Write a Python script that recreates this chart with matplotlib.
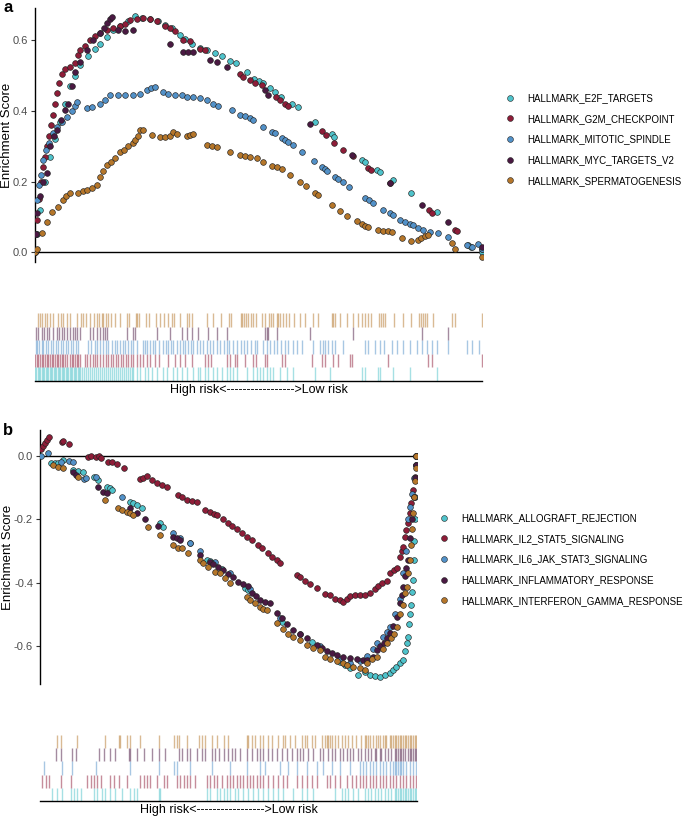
import matplotlib
matplotlib.use("Agg")
import matplotlib.pyplot as plt
from matplotlib.lines import Line2D

plt.rcParams['font.family'] = ['Liberation Sans', 'DejaVu Sans']

# ---------------- painel a (ranks 0..1341) ----------------
N_A = 1341
names_a = ["HALLMARK_E2F_TARGETS", "HALLMARK_G2M_CHECKPOINT", "HALLMARK_MITOTIC_SPINDLE",
           "HALLMARK_MYC_TARGETS_V2", "HALLMARK_SPERMATOGENESIS"]

e2f_rank = [0, 6, 15, 30, 45, 60, 75, 90, 105, 120, 135, 159, 180, 195, 216, 234, 255, 279, 300, 321,
            345, 369, 390, 411, 435, 450, 471, 495, 516, 540, 561, 585, 603, 636, 657, 672, 684, 705,
            720, 738, 771, 789, 840, 891, 897, 981, 990, 1026, 1035, 1074, 1128, 1206, 1299, 1308, 1341]
e2f_es = [0.0, 0.05, 0.12, 0.2, 0.27, 0.32, 0.37, 0.42, 0.47, 0.5, 0.53, 0.555, 0.575, 0.59, 0.61, 0.63,
          0.64, 0.655, 0.668, 0.665, 0.66, 0.655, 0.645, 0.635, 0.615, 0.605, 0.59, 0.58, 0.573, 0.565,
          0.555, 0.543, 0.535, 0.51, 0.49, 0.485, 0.48, 0.465, 0.455, 0.44, 0.42, 0.41, 0.368, 0.335,
          0.327, 0.26, 0.255, 0.232, 0.228, 0.204, 0.168, 0.114, 0.02, 0.015, 0.0]

g2m_rank = [0, 6, 12, 18, 24, 30, 36, 42, 48, 54, 60, 66, 72, 81, 90, 105, 120, 129, 135, 150, 165, 180,
            195, 216, 234, 255, 270, 285, 306, 324, 345, 366, 390, 405, 420, 444, 465, 495, 510, 615, 624,
            645, 660, 681, 723, 735, 750, 759, 861, 873, 897, 924, 954, 999, 1008, 1065, 1182, 1191, 1260,
            1266, 1341]
g2m_es = [0.0, 0.09, 0.15, 0.2, 0.24, 0.27, 0.3, 0.33, 0.36, 0.39, 0.42, 0.45, 0.48, 0.505, 0.52, 0.525,
          0.535, 0.56, 0.572, 0.585, 0.6, 0.612, 0.62, 0.63, 0.635, 0.64, 0.648, 0.658, 0.662, 0.663, 0.66,
          0.655, 0.64, 0.635, 0.628, 0.6, 0.598, 0.575, 0.572, 0.505, 0.497, 0.488, 0.48, 0.474, 0.44, 0.43,
          0.42, 0.414, 0.343, 0.333, 0.31, 0.29, 0.273, 0.238, 0.233, 0.195, 0.118, 0.112, 0.062, 0.06, 0.01]

mit_rank = [0, 3, 6, 12, 18, 24, 33, 42, 54, 66, 81, 96, 111, 120, 126, 156, 171, 195, 210, 225, 249, 270,
            294, 315, 336, 348, 360, 384, 399, 420, 441, 456, 474, 495, 516, 534, 549, 591, 615, 630, 645,
            654, 684, 711, 720, 741, 750, 759, 774, 801, 837, 861, 870, 876, 900, 909, 924, 942, 990, 1002,
            1014, 1044, 1065, 1074, 1095, 1110, 1125, 1134, 1149, 1164, 1185, 1209, 1239, 1296, 1311, 1329,
            1341]
mit_es = [0.0, 0.05, 0.147, 0.19, 0.22, 0.26, 0.29, 0.31, 0.337, 0.355, 0.37, 0.383, 0.4, 0.415, 0.426,
          0.408, 0.412, 0.42, 0.43, 0.445, 0.445, 0.445, 0.445, 0.448, 0.46, 0.465, 0.468, 0.455, 0.448,
          0.445, 0.445, 0.44, 0.44, 0.437, 0.43, 0.42, 0.414, 0.403, 0.39, 0.385, 0.38, 0.374, 0.355, 0.34,
          0.337, 0.323, 0.318, 0.312, 0.303, 0.283, 0.258, 0.24, 0.235, 0.23, 0.213, 0.207, 0.2, 0.185,
          0.153, 0.147, 0.14, 0.12, 0.11, 0.105, 0.09, 0.085, 0.08, 0.077, 0.068, 0.064, 0.057, 0.054,
          0.042, 0.02, 0.014, 0.023, 0.01]

myc_rank = [0, 3, 6, 15, 24, 36, 45, 57, 66, 78, 90, 99, 111, 120, 135, 156, 174, 195, 207, 216, 225, 231,
            249, 270, 294, 405, 444, 459, 474, 525, 546, 576, 690, 699, 825, 951, 1065, 1161, 1239, 1341]
myc_es = [0.0, 0.05, 0.11, 0.16, 0.2, 0.224, 0.3, 0.33, 0.346, 0.375, 0.403, 0.42, 0.47, 0.51, 0.54, 0.573,
          0.6, 0.62, 0.635, 0.65, 0.66, 0.667, 0.63, 0.628, 0.63, 0.59, 0.568, 0.568, 0.568, 0.545, 0.54,
          0.525, 0.46, 0.445, 0.363, 0.275, 0.196, 0.133, 0.085, 0.014]

sper_rank = [0, 6, 21, 36, 51, 69, 84, 93, 105, 129, 144, 156, 171, 186, 195, 204, 216, 228, 240, 255, 267,
             279, 294, 300, 309, 315, 324, 351, 375, 390, 405, 414, 426, 456, 465, 474, 516, 531, 546, 585,
             615, 630, 645, 666, 684, 711, 726, 741, 765, 795, 813, 840, 849, 891, 915, 936, 966, 981, 990,
             999, 1029, 1044, 1059, 1071, 1101, 1128, 1149, 1158, 1170, 1179, 1251, 1260, 1341]
sper_es = [0.0, 0.01, 0.054, 0.085, 0.114, 0.128, 0.147, 0.16, 0.167, 0.168, 0.172, 0.176, 0.182, 0.19,
           0.213, 0.23, 0.247, 0.256, 0.266, 0.284, 0.29, 0.3, 0.31, 0.318, 0.33, 0.346, 0.345, 0.332, 0.327,
           0.325, 0.33, 0.34, 0.335, 0.33, 0.333, 0.335, 0.303, 0.3, 0.298, 0.284, 0.275, 0.272, 0.27, 0.267,
           0.255, 0.244, 0.24, 0.235, 0.218, 0.2, 0.187, 0.168, 0.162, 0.133, 0.117, 0.103, 0.089, 0.08,
           0.075, 0.07, 0.062, 0.06, 0.06, 0.057, 0.04, 0.032, 0.035, 0.04, 0.045, 0.048, 0.025, 0.01, -0.014]

# posicoes dos genes (rug)
e2f_hits = [0, 4, 8, 12, 16, 20, 24, 28, 32, 36, 40, 44, 48, 52, 56, 60, 64, 68, 72, 76, 80, 84, 88, 92,
            96, 100, 104, 108, 112, 116, 120, 124, 128, 132, 135, 141, 147, 153, 159, 165, 171, 177, 183,
            189, 195, 201, 207, 213, 219, 225, 231, 237, 243, 249, 255, 261, 267, 273, 279, 285, 291, 295,
            305, 315, 330, 340, 350, 365, 385, 395, 415, 425, 440, 455, 475, 490, 495, 510, 520, 535, 545,
            560, 575, 585, 595, 605, 635, 655, 665, 675, 685, 695, 705, 715, 735, 755, 775, 840, 885, 980,
            990, 1030, 1035, 1075, 1125, 1205]
g2m_hits = [0, 5, 10, 15, 20, 25, 30, 35, 40, 45, 50, 55, 60, 65, 70, 75, 80, 85, 90, 95, 105, 110, 115,
            120, 125, 130, 135, 150, 157, 165, 173, 180, 187, 195, 205, 213, 220, 227, 235, 243, 250, 257,
            265, 273, 280, 287, 293, 305, 315, 325, 335, 345, 360, 373, 400, 420, 435, 450, 470, 510, 520,
            527, 575, 585, 600, 607, 630, 655, 663, 690, 695, 740, 750, 830, 860, 870, 895, 910, 945, 950,
            1060, 1180, 1190, 1340]
mit_hits = [3, 7, 13, 20, 25, 33, 40, 47, 55, 63, 70, 77, 85, 93, 100, 107, 115, 123, 130, 160, 167, 180,
            187, 195, 205, 213, 220, 230, 240, 247, 255, 263, 270, 280, 287, 295, 305, 323, 330, 337, 345,
            353, 360, 373, 385, 393, 400, 407, 415, 425, 435, 443, 450, 460, 467, 475, 485, 495, 505, 515,
            525, 535, 545, 555, 567, 575, 583, 595, 607, 617, 627, 637, 647, 660, 667, 685, 695, 705, 717,
            727, 737, 750, 760, 775, 787, 800, 835, 855, 863, 870, 880, 890, 900, 925, 990, 1000, 1020,
            1035, 1047, 1070, 1085, 1105, 1125, 1145, 1160, 1175, 1190, 1205, 1240, 1295, 1310, 1333]
myc_hits = [3, 10, 20, 27, 35, 43, 53, 65, 73, 80, 87, 95, 105, 113, 120, 127, 135, 165, 175, 185, 195,
            203, 210, 217, 275, 293, 300, 365, 405, 440, 455, 470, 490, 520, 545, 575, 690, 695, 700, 725,
            825, 955, 1160, 1240]
sper_hits = [10, 15, 22, 30, 37, 45, 55, 70, 77, 85, 95, 105, 125, 137, 143, 153, 165, 177, 187, 193, 200,
             205, 213, 220, 227, 240, 255, 277, 283, 303, 307, 313, 333, 343, 363, 375, 387, 398, 410, 417,
             435, 457, 463, 470, 517, 535, 557, 583, 587, 617, 622, 628, 633, 640, 647, 655, 663, 680, 690,
             703, 707, 713, 725, 730, 735, 743, 753, 763, 777, 795, 810, 835, 850, 890, 895, 900, 915, 935,
             953, 970, 980, 990, 1000, 1007, 1033, 1037, 1043, 1050, 1077, 1103, 1127, 1153, 1157, 1163,
             1170, 1177, 1195, 1250, 1260, 1340]

# ---------------- painel b (ranks 0..1130) ----------------
N_B = 1130
names_b = ["HALLMARK_ALLOGRAFT_REJECTION", "HALLMARK_IL2_STAT5_SIGNALING", "HALLMARK_IL6_JAK_STAT3_SIGNALING",
           "HALLMARK_INFLAMMATORY_RESPONSE", "HALLMARK_INTERFERON_GAMMA_RESPONSE"]

allo_rank = [30, 42, 51, 66, 96, 111, 126, 159, 171, 201, 210, 216, 270, 279, 291, 306, 360, 369, 450, 501,
             510, 519, 546, 615, 624, 726, 816, 900, 915, 930, 954, 975, 990, 1005, 1020, 1035, 1050, 1059,
             1068, 1080, 1089, 1095, 1101, 1104, 1107, 1110, 1113, 1116, 1119, 1122, 1123, 1125, 1126, 1128,
             1130]
allo_es = [-0.024, -0.024, -0.024, -0.014, -0.045, -0.048, -0.05, -0.068, -0.077, -0.1, -0.103, -0.107,
           -0.145, -0.15, -0.155, -0.165, -0.212, -0.224, -0.275, -0.329, -0.333, -0.338, -0.356, -0.416,
           -0.423, -0.524, -0.587, -0.65, -0.66, -0.668, -0.69, -0.68, -0.69, -0.695, -0.697, -0.69, -0.685,
           -0.675, -0.665, -0.653, -0.643, -0.615, -0.59, -0.57, -0.53, -0.5, -0.47, -0.43, -0.39, -0.33,
           -0.27, -0.2, -0.13, -0.07, 0.0]

il2_rank = [0, 6, 12, 18, 24, 63, 66, 84, 141, 150, 165, 174, 180, 204, 216, 231, 252, 300, 309, 321, 336,
            351, 366, 381, 414, 426, 441, 456, 471, 495, 510, 522, 531, 549, 564, 576, 591, 606, 621, 636,
            654, 666, 684, 696, 711, 720, 771, 780, 795, 810, 831, 855, 870, 885, 900, 909, 921, 930, 945,
            960, 975, 990, 1005, 1014, 1026, 1041, 1050, 1062, 1071, 1080, 1086, 1089, 1095, 1098, 1104,
            1110, 1113, 1119, 1125, 1128, 1130]
il2_es = [0.02, 0.03, 0.04, 0.05, 0.06, 0.043, 0.045, 0.037, -0.003, -0.002, -0.004, 0.0, -0.007, -0.02,
          -0.02, -0.025, -0.04, -0.072, -0.07, -0.065, -0.077, -0.085, -0.092, -0.1, -0.124, -0.13, -0.14,
          -0.142, -0.147, -0.171, -0.178, -0.183, -0.187, -0.2, -0.212, -0.222, -0.232, -0.244, -0.256,
          -0.265, -0.28, -0.29, -0.305, -0.318, -0.33, -0.338, -0.375, -0.383, -0.395, -0.405, -0.417,
          -0.436, -0.44, -0.45, -0.455, -0.46, -0.45, -0.443, -0.44, -0.438, -0.44, -0.433, -0.42, -0.41,
          -0.4, -0.395, -0.37, -0.36, -0.354, -0.318, -0.3, -0.287, -0.256, -0.235, -0.212, -0.18, -0.15,
          -0.108, -0.067, -0.03, 0.0]

il6_rank = [0, 21, 60, 84, 96, 129, 135, 165, 246, 399, 420, 450, 480, 525, 570, 630, 720, 780, 840, 900,
            930, 960, 981, 999, 1011, 1029, 1041, 1050, 1065, 1080, 1089, 1098, 1104, 1110, 1116, 1122,
            1128, 1130]
il6_es = [0.0, 0.008, -0.02, -0.017, -0.02, -0.074, -0.07, -0.067, -0.13, -0.244, -0.26, -0.275, -0.3,
          -0.335, -0.37, -0.42, -0.51, -0.56, -0.6, -0.64, -0.652, -0.645, -0.63, -0.61, -0.59, -0.57,
          -0.555, -0.54, -0.5, -0.45, -0.37, -0.3, -0.2, -0.16, -0.12, -0.07, -0.03, 0.0]

infl_rank = [96, 105, 171, 189, 201, 270, 291, 315, 354, 399, 411, 420, 480, 510, 519, 534, 549, 564, 579,
             594, 609, 624, 636, 648, 660, 675, 690, 711, 726, 741, 759, 780, 801, 831, 846, 861, 876, 891,
             909, 930, 951, 969, 981, 999, 1011, 1020, 1032, 1041, 1050, 1059, 1071, 1080, 1086, 1089, 1095,
             1098, 1104, 1110, 1116, 1122, 1125, 1128, 1130]
infl_es = [-0.05, -0.06, -0.1, -0.113, -0.117, -0.165, -0.18, -0.2, -0.22, -0.256, -0.26, -0.265, -0.313,
           -0.335, -0.34, -0.35, -0.36, -0.372, -0.382, -0.398, -0.405, -0.41, -0.433, -0.443, -0.455, -0.46,
           -0.465, -0.496, -0.51, -0.53, -0.55, -0.562, -0.575, -0.597, -0.605, -0.615, -0.62, -0.628,
           -0.634, -0.638, -0.64, -0.642, -0.643, -0.634, -0.612, -0.6, -0.59, -0.575, -0.558, -0.535,
           -0.508, -0.465, -0.44, -0.413, -0.38, -0.355, -0.33, -0.26, -0.2, -0.13, -0.07, -0.03, 0.0]

ifng_rank = [36, 51, 66, 111, 195, 234, 246, 261, 270, 279, 324, 360, 399, 414, 426, 444, 480, 489, 504,
             525, 540, 555, 570, 621, 630, 645, 660, 669, 681, 711, 729, 744, 759, 780, 801, 819, 840, 855,
             870, 891, 909, 921, 939, 960, 975, 981, 996, 1011, 1029, 1041, 1053, 1062, 1071, 1080, 1089,
             1095, 1101, 1104, 1110, 1113, 1116, 1119, 1122, 1125, 1128, 1130]
ifng_es = [-0.03, -0.035, -0.04, -0.068, -0.14, -0.165, -0.171, -0.177, -0.18, -0.187, -0.224, -0.25,
           -0.28, -0.29, -0.29, -0.306, -0.329, -0.338, -0.35, -0.366, -0.37, -0.385, -0.4, -0.445, -0.455,
           -0.465, -0.477, -0.482, -0.486, -0.528, -0.545, -0.56, -0.57, -0.58, -0.595, -0.605, -0.612,
           -0.634, -0.64, -0.647, -0.653, -0.66, -0.665, -0.67, -0.675, -0.653, -0.64, -0.634, -0.61,
           -0.59, -0.575, -0.56, -0.54, -0.5, -0.47, -0.433, -0.413, -0.37, -0.33, -0.28, -0.23, -0.18,
           -0.13, -0.08, -0.04, 0.0]

allo_hits = [35, 50, 65, 90, 100, 110, 120, 160, 170, 185, 195, 210, 225, 245, 270, 280, 290, 355, 360, 500,
             510, 530, 540, 550, 560, 570, 585, 595, 610, 625, 640, 655, 670, 685, 700, 715, 730, 760, 785,
             800, 820, 885, 905, 915, 925, 940, 955, 975, 985, 995, 1005, 1015, 1025, 1035, 1045, 1055, 1065,
             1070, 1075, 1080, 1085, 1090, 1095, 1100, 1105, 1110, 1115, 1120, 1125, 1130]
il2_hits = [5, 15, 25, 60, 90, 140, 150, 160, 170, 180, 210, 220, 235, 260, 300, 310, 320, 330, 350, 370,
            380, 410, 420, 430, 440, 450, 465, 500, 510, 520, 530, 545, 560, 570, 580, 590, 600, 610, 620,
            630, 640, 650, 660, 670, 685, 700, 715, 730, 740, 770, 785, 800, 815, 830, 860, 870, 885, 900,
            920, 935, 950, 960, 970, 980, 990, 1000, 1010, 1020, 1030, 1040, 1050, 1060, 1070, 1080, 1090,
            1100, 1110, 1120, 1130]
il6_hits = [10, 65, 95, 165, 270, 355, 400, 410, 450, 515, 570, 620, 660, 675, 720, 745, 770, 800, 830, 850,
            875, 900, 930, 960, 970, 980, 990, 1000, 1010, 1020, 1030, 1040, 1050, 1060, 1065, 1070, 1075,
            1080, 1085, 1090, 1100, 1110, 1120, 1130]
infl_hits = [45, 60, 95, 105, 175, 190, 210, 225, 265, 270, 290, 310, 335, 355, 375, 415, 425, 440, 450, 470,
             485, 495, 515, 525, 535, 550, 565, 575, 585, 600, 620, 635, 650, 660, 670, 685, 695, 710, 725,
             740, 755, 770, 780, 790, 805, 820, 840, 850, 865, 875, 885, 900, 910, 920, 930, 940, 955, 965,
             975, 985, 995, 1005, 1010, 1020, 1025, 1035, 1045, 1055, 1065, 1070, 1075, 1080, 1085, 1090,
             1095, 1105, 1110, 1115, 1120, 1125, 1130]
ifng_hits = [50, 60, 110, 195, 235, 240, 260, 270, 300, 355, 400, 410, 415, 440, 475, 485, 495, 515, 530,
             550, 565, 620, 625, 635, 645, 660, 670, 685, 695, 715, 730, 735, 750, 765, 785, 795, 800, 815,
             825, 845, 855, 860, 865, 870, 875, 885, 895, 905, 915, 925, 935, 950, 965, 975, 980, 985, 990,
             1000, 1010, 1015, 1020, 1030, 1035, 1040, 1050, 1055, 1060, 1065, 1070, 1075, 1080, 1085, 1090,
             1095, 1100, 1105, 1110, 1115, 1120, 1125, 1130]

cores = ["#4FC3CB", "#8E1D38", "#5291C8", "#4A1942", "#B5762A"]
xlabel_txt = "High risk<" + "-" * 17 + ">Low risk"

W, H = 685, 819


def rect(l, t, r, b):
    # caixa em pixels -> coordenadas da figura
    return [l / W, 1 - b / H, (r - l) / W, (b - t) / H]


def painel(fig, box_main, box_rug, n, curvas, hits, nomes, ylim, yticks, leg_xy, label, label_y, ylab_x):
    ax = fig.add_axes(rect(*box_main))
    for (xr, es), c in zip(curvas, cores):
        ax.scatter(xr, es, s=17, color=c, edgecolor="#222222", linewidth=0.45, zorder=3)
    ax.axhline(0, color="black", lw=1.0, zorder=1)
    ax.set_xlim(-2, n + 2)
    ax.set_ylim(*ylim)
    ax.set_yticks(yticks)
    ax.set_yticklabels([f"{v:.1f}" for v in yticks])
    ax.set_xticks([])
    for s in ["top", "right", "bottom"]:
        ax.spines[s].set_visible(False)
    ax.spines["left"].set_linewidth(1.0)
    ax.tick_params(axis="y", labelsize=8, labelcolor="#4D4D4D", color="#333333", length=3, width=0.8, pad=2)
    ax.set_ylabel("Enrichment Score", fontsize=9.5)
    # ylab_x = borda direita do texto (px)
    ax.yaxis.set_label_coords((ylab_x - box_main[0]) / (box_main[2] - box_main[0]), 0.5)

    rug = fig.add_axes(rect(*box_rug))
    for i, (h, c) in enumerate(zip(hits, cores)):
        rug.vlines(h, i, i + 1, color=c, lw=1.0, alpha=0.5)
    rug.set_xlim(-2, n + 2)
    rug.set_ylim(0, 5)
    rug.set_xticks([])
    rug.set_yticks([])
    for s in ["top", "right", "left"]:
        rug.spines[s].set_visible(False)
    rug.spines["bottom"].set_linewidth(1.0)
    rug.set_xlabel(xlabel_txt, fontsize=9, labelpad=2)

    handles = [Line2D([], [], marker="o", ls="", markersize=4.2, markerfacecolor=c,
                      markeredgecolor="#222222", markeredgewidth=0.4) for c in cores]
    fig.legend(handles, nomes, loc="center left", bbox_to_anchor=(leg_xy[0] / W, 1 - leg_xy[1] / H),
               frameon=False, fontsize=7.0, handlelength=1.0, handletextpad=1.2, labelspacing=1.1,
               borderpad=0, borderaxespad=0)
    fig.text(3 / W, 1 - label_y / H, label, fontsize=12, fontweight="bold", va="top")


fig = plt.figure(figsize=(6.85, 8.19), dpi=100)

painel(fig, (34.5, 8, 482.5, 262), (34.5, 313, 482.5, 381), N_A,
       [(e2f_rank, e2f_es), (g2m_rank, g2m_es), (mit_rank, mit_es), (myc_rank, myc_es), (sper_rank, sper_es)],
       [e2f_hits, g2m_hits, mit_hits, myc_hits, sper_hits], names_a,
       (-0.028, 0.692), [0.0, 0.2, 0.4, 0.6], (505.5, 139.5), "a", 0, 13)

painel(fig, (40, 430, 417, 684), (40, 735, 417, 801), N_B,
       [(allo_rank, allo_es), (il2_rank, il2_es), (il6_rank, il6_es), (infl_rank, infl_es), (ifng_rank, ifng_es)],
       [allo_hits, il2_hits, il6_hits, infl_hits, ifng_hits], names_b,
       (-0.719, 0.081), [0.0, -0.2, -0.4, -0.6], (439.5, 559.5), "b", 423, 14)

fig.savefig("out.png", dpi=100)
